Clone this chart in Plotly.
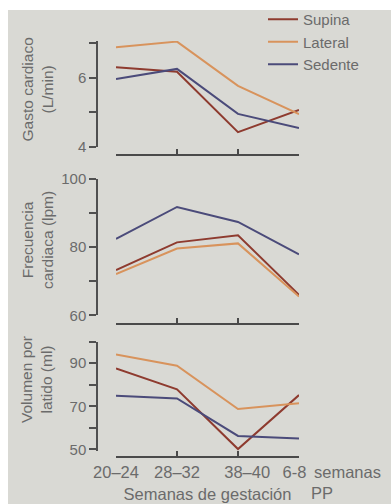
import plotly.graph_objects as go

W, H = 391, 504

categories = ["20–24", "28–32", "38–40", "6-8"]
tick_text = ["20–24", "28–32", "\u00a0\u00a0\u00a0\u00a038–40", "6-8\u00a0\u00a0"]

series = ["Supina", "Lateral", "Sedente"]
colors = {"Supina": "#8e3b2f", "Lateral": "#d8935c", "Sedente": "#4b4b7a"}

gasto = {
    "Supina": [6.30, 6.17, 4.42, 5.06],
    "Lateral": [6.88, 7.04, 5.76, 4.94],
    "Sedente": [5.96, 6.25, 4.95, 4.54],
}
frecuencia = {
    "Supina": [73.3, 81.4, 83.5, 66.0],
    "Lateral": [72.1, 79.6, 81.1, 65.5],
    "Sedente": [82.4, 91.8, 87.4, 77.9],
}
volumen = {
    "Supina": [87.6, 77.9, 50.1, 75.2],
    "Lateral": [94.1, 88.8, 68.7, 71.4],
    "Sedente": [74.9, 73.6, 56.2, 55.0],
}

gasto_ticks = [4, 5, 6, 7]
gasto_labels = ["4", "", "6", ""]
frec_ticks = [60, 70, 80, 90, 100]
frec_labels = ["60", "", "80", "", "100"]
vol_ticks = [50, 60, 70, 80, 90, 100]
vol_labels = ["50", "", "70", "", "90", ""]

def py(p):
    return 1 - p / H

def px(p):
    return p / W

fig = go.Figure()

panels = [
    ("", "", gasto, True),
    ("2", "2", frecuencia, False),
    ("3", "3", volumen, False),
]
for xs, ys, data, showleg in panels:
    for s in series:
        fig.add_trace(go.Scatter(
            x=categories, y=data[s], mode="lines", name=s,
            line=dict(color=colors[s], width=2),
            xaxis="x" + xs, yaxis="y" + ys, showlegend=showleg,
            hoverinfo="skip",
        ))

axis_col = "#505050"
txt_col = "#6b6b6b"
xdom = [px(116), px(299)]

def xaxis(pos, labels):
    return dict(
        domain=xdom, range=[0, 3], anchor="free", position=py(pos),
        showline=True, linecolor="#4a4a4a", linewidth=2,
        ticks="inside", ticklen=5, tickcolor="#4a4a4a", tickwidth=1.5,
        showgrid=False, zeroline=False, fixedrange=True,
        tickmode="array", tickvals=categories, ticktext=tick_text,
        showticklabels=labels, tickangle=0,
        tickfont=dict(family="Liberation Sans, Arial", size=16.5, color=txt_col),
        type="category",
    )

def yaxis(top_px, bot_px, rng, tv, tt):
    return dict(
        domain=[py(bot_px), py(top_px)], range=rng, anchor="free", position=px(97),
        showline=True, linecolor=axis_col, linewidth=1.5,
        ticks="outside", ticklen=7, tickcolor=axis_col, tickwidth=1.5,
        showgrid=False, zeroline=False, fixedrange=True,
        tickmode="array", tickvals=tv, ticktext=tt,
        tickfont=dict(family="Liberation Sans, Arial", size=15, color=txt_col),
    )

s1 = 34.57
fig.update_layout(
    xaxis=xaxis(155, False),
    xaxis2=xaxis(324.3, False),
    xaxis3=xaxis(456.7, True),
    yaxis=yaxis(146.7 - 3.06 * s1, 146.7, [4, 7.06], gasto_ticks, gasto_labels),
    yaxis2=yaxis(179, 315.3, [60, 100], frec_ticks, frec_labels),
    yaxis3=yaxis(341.7, 449.3 + 2.152, [49, 100], vol_ticks, vol_labels),
)
fig.update_layout(xaxis3_title=dict(
    text="Semanas de gestación", standoff=8,
    font=dict(family="Liberation Sans, Arial", size=16.5, color=txt_col)))

ann_font = dict(family="Liberation Sans, Arial", size=15.5, color=txt_col)
annotations = [
    dict(text="Gasto cardiaco<br>(L/min)", x=px(37), y=py(89.5)),
    dict(text="Frecuencia<br>cardiaca (lpm)", x=px(37), y=py(240)),
    dict(text="Volumen por<br>latido (ml)", x=px(36), y=py(380)),
]
for a in annotations:
    a.update(xref="paper", yref="paper", xanchor="center", yanchor="middle",
             textangle=-90, showarrow=False, font=ann_font)
annotations.append(dict(text="semanas", x=px(312), y=py(472), xref="paper", yref="paper",
                        xanchor="left", yanchor="middle", showarrow=False,
                        font=dict(family="Liberation Sans, Arial", size=16.5, color=txt_col)))
annotations.append(dict(text="PP", x=px(309), y=0, xref="paper", yref="paper",
                        xanchor="left", yanchor="bottom", showarrow=False,
                        font=dict(family="Liberation Sans, Arial", size=16.5, color=txt_col)))

fig.update_layout(
    width=W, height=H, margin=dict(l=0, r=0, t=0, b=0, autoexpand=False),
    paper_bgcolor="white", plot_bgcolor="rgba(0,0,0,0)",
    annotations=annotations,
    shapes=[dict(type="rect", xref="paper", yref="paper", x0=px(8), x1=1, y0=0, y1=py(10),
                 fillcolor="#d9d9d4", line=dict(width=0), layer="below")],
    legend=dict(x=px(263), y=py(3), xanchor="left", yanchor="top",
                bgcolor="rgba(0,0,0,0)", borderwidth=0, tracegroupgap=0,
                font=dict(family="Liberation Sans, Arial", size=15, color=txt_col)),
    showlegend=True,
)

fig.write_html("out.html")
